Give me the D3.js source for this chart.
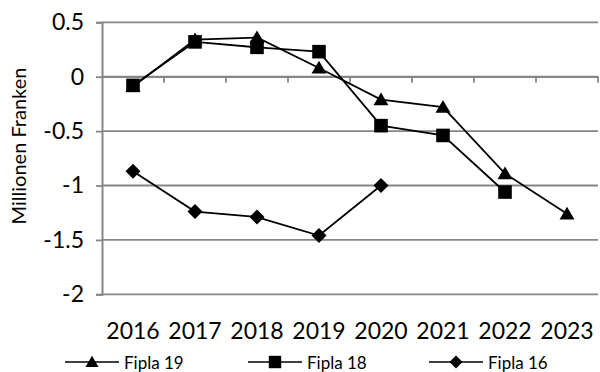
<!DOCTYPE html>
<html>
<head>
<meta charset="utf-8">
<script src="https://cdn.jsdelivr.net/npm/d3@7"></script>
<style>
  html, body { margin: 0; padding: 0; background: #fff; }
  svg { display: block; font-family: Lato, "Open Sans", sans-serif; }
</style>
</head>
<body>
<svg id="chart" width="600" height="372"></svg>
<script>
// Years on the category axis
const years = ["2016", "2017", "2018", "2019", "2020", "2021", "2022", "2023"];

// Forecast results per financial plan (millions of francs); null = no value
const fipla19 = [-0.09, 0.34, 0.36, 0.08, -0.21, -0.28, -0.89, -1.26];
const fipla18 = [-0.08, 0.32, 0.27, 0.23, -0.45, -0.54, -1.06, null];
const fipla16 = [-0.87, -1.24, -1.29, -1.46, -1.00, null, null, null];

const yTicks = [0.5, 0, -0.5, -1, -1.5, -2];
const seriesNames = ["Fipla 19", "Fipla 18", "Fipla 16"];

const svg = d3.select("#chart");
const gridColor = "#868686";

const x = d3.scaleBand().domain(years).range([102, 598]);
const y = d3.scaleLinear().domain([-2, 0.5]).range([294.3, 22.3]);

// horizontal gridlines
svg.append("g").selectAll("line").data(yTicks).join("line")
  .attr("x1", 102).attr("x2", 598)
  .attr("y1", d => y(d)).attr("y2", d => y(d))
  .attr("stroke", gridColor).attr("stroke-width", 1.8);

// value axis
const yAxis = svg.append("g").attr("transform", "translate(102,0)")
  .call(d3.axisLeft(y).tickValues(yTicks).tickSize(6).tickPadding(12)
    .tickFormat(d => String(d).replace("−", "-")));
yAxis.select(".domain").attr("stroke", gridColor).attr("stroke-width", 2);
yAxis.selectAll(".tick line").attr("stroke", gridColor).attr("stroke-width", 1.8);
yAxis.selectAll(".tick text").attr("fill", "#000")
  .style("font-size", "23px").style("font-family", "Lato, sans-serif");

// category axis crossing at zero, labels at the bottom
const xAxis = svg.append("g").attr("transform", `translate(0,${y(0)})`)
  .call(d3.axisBottom(x).tickSize(0).tickFormat(""));
xAxis.select(".domain").attr("stroke", gridColor).attr("stroke-width", 1.8);
svg.append("g").selectAll("line").data(years).join("line")
  .attr("x1", d => x(d) + x.bandwidth()).attr("x2", d => x(d) + x.bandwidth())
  .attr("y1", y(0)).attr("y2", y(0) + 6)
  .attr("stroke", gridColor).attr("stroke-width", 1.8);

svg.append("g").selectAll("text").data(years).join("text")
  .attr("x", d => x(d) + x.bandwidth() / 2).attr("y", 339)
  .attr("text-anchor", "middle")
  .style("font-size", "23px").text(d => d);

// axis title
svg.append("text")
  .attr("transform", "translate(26,146) rotate(-90)")
  .attr("text-anchor", "middle")
  .style("font-size", "20px")
  .text("Millionen Franken");

// marker shapes, s = half width
const triangle = s => `M0,${-s * 0.95}L${s},${s * 0.75}L${-s},${s * 0.75}Z`;
const square = s => `M${-s},${-s}H${s}V${s}H${-s}Z`;
const diamond = s => `M0,${-s}L${s},0L0,${s}L${-s},0Z`;

const line = d3.line()
  .defined(d => d != null)
  .x((d, i) => x(years[i]) + x.bandwidth() / 2)
  .y(d => y(d));

const series = [
  { name: seriesNames[0], values: fipla19, sym: triangle, size: 7.5, legSize: 6.5 },
  { name: seriesNames[1], values: fipla18, sym: square, size: 6.8, legSize: 6.2 },
  { name: seriesNames[2], values: fipla16, sym: diamond, size: 7.5, legSize: 6.5 }
];

series.forEach(s => {
  const g = svg.append("g");
  g.append("path").datum(s.values).attr("d", line)
    .attr("fill", "none").attr("stroke", "#000").attr("stroke-width", 1.8);
  g.selectAll("path.m").data(s.values.map((v, i) => ({ v, i })).filter(d => d.v != null))
    .join("path").attr("class", "m")
    .attr("transform", d => `translate(${x(years[d.i]) + x.bandwidth() / 2},${y(d.v)})`)
    .attr("d", s.sym(s.size)).attr("fill", "#000");
});

// legend
const legendX = [65, 248, 429];
series.forEach((s, i) => {
  const g = svg.append("g").attr("transform", `translate(${legendX[i]},362)`);
  g.append("line").attr("x1", 0).attr("x2", 54).attr("y1", 0).attr("y2", 0)
    .attr("stroke", "#000").attr("stroke-width", 1.6);
  g.append("path").attr("transform", "translate(27,0)").attr("d", s.sym(s.legSize)).attr("fill", "#000");
  g.append("text").attr("x", 59).attr("y", 6.5).style("font-size", "17px").text(s.name);
});
</script>
</body>
</html>
